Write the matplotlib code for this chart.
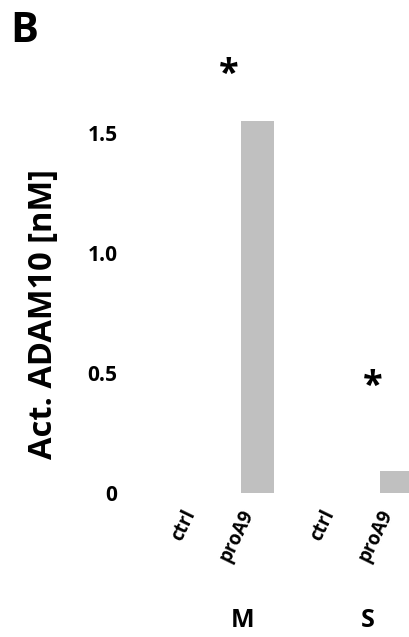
import matplotlib
matplotlib.use("Agg")
import matplotlib.pyplot as plt
import matplotlib.transforms as mtransforms

categories = ["ctrl", "proA9", "ctrl", "proA9"]
values = [0.0, 1.55, 0.0, 0.09]
groups = ["M", "S"]
group_x = [0.78, 2.58]
star_x = [0.58, 2.65]
star_y = [1.74, 0.44]
yticks = [0, 0.5, 1.0, 1.5]
yticklabels = ["0", "0.5", "1.0", "1.5"]

plt.rcParams["font.family"] = ["Open Sans", "DejaVu Sans"]
plt.rcParams["font.weight"] = "bold"

fig = plt.figure(figsize=(4.10, 6.37), dpi=100)
ax = fig.add_axes([130 / 410, 144 / 637, 280 / 410, 456 / 637])

x = range(len(categories))
ax.bar(x, values, width=0.475, color="#c0c0c0")
ax.set_xlim(-0.84, 3.19)
ax.set_ylim(0, 1.9)

for s in ax.spines.values():
    s.set_visible(False)
ax.tick_params(length=0)
ax.set_yticks(yticks)
ax.set_yticklabels(yticklabels, fontsize=15, fontweight="bold")
ax.tick_params(axis="y", pad=9)
ax.set_xticks(list(x))
ax.set_xticklabels(categories, rotation=64, ha="right", va="bottom",
                   rotation_mode="anchor", fontsize=13.5, fontweight="bold")
ax.tick_params(axis="x", pad=16)
# the ctrl labels sit a little to the right in the original
shift = mtransforms.ScaledTranslation(8 / 72, 0, fig.dpi_scale_trans)
for lbl, c in zip(ax.get_xticklabels(), categories):
    if c == "ctrl":
        lbl.set_transform(lbl.get_transform() + shift)

for sx, sy in zip(star_x, star_y):
    ax.text(sx, sy, "*", ha="center", va="center", fontsize=26,
            fontweight="bold", clip_on=False)

for g, gx in zip(groups, group_x):
    ax.text(gx, -0.53, g, ha="center", va="center", fontsize=18,
            fontweight="bold", clip_on=False)

fig.text(44 / 410, 1 - 314 / 637, "Act. ADAM10 [nM]", rotation=90,
         ha="center", va="center", fontsize=23.5, fontweight="bold")
fig.text(10 / 410, 1 - 31 / 637, "B", ha="left", va="center",
         fontsize=30, fontweight="bold")

fig.savefig("out.png", dpi=100)
